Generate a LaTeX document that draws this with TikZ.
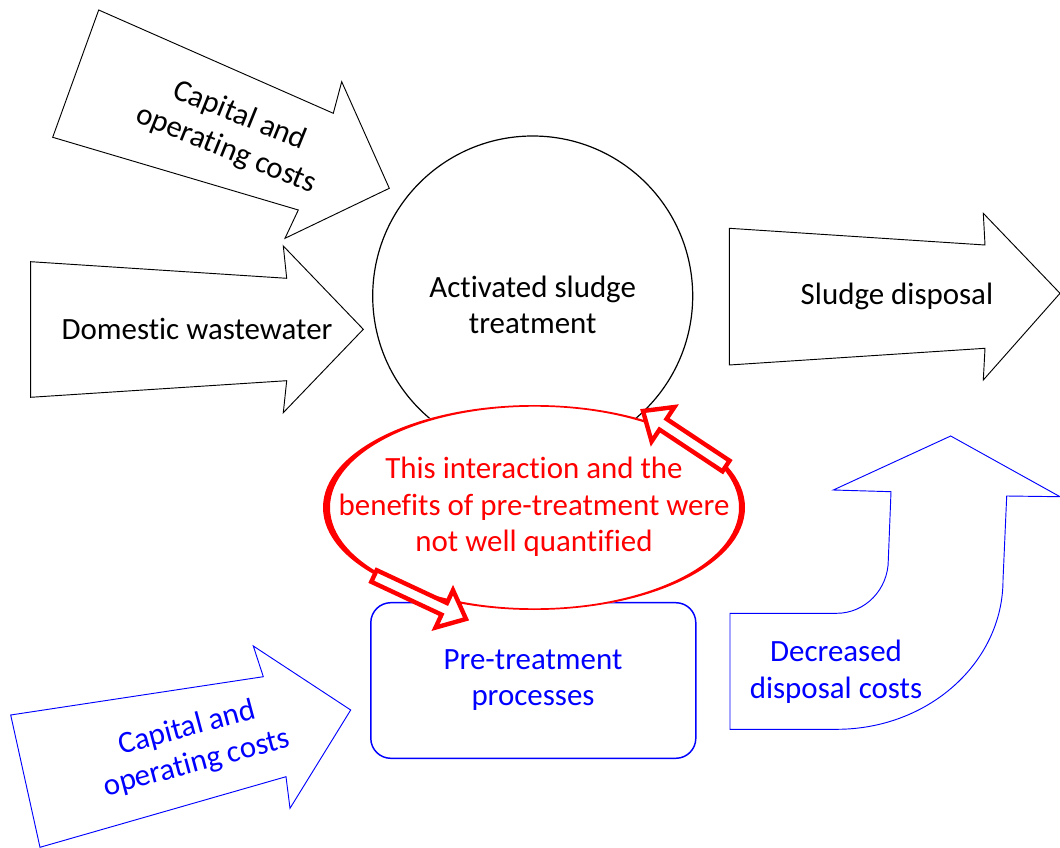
\documentclass[tikz,border=0pt]{standalone}
\usepackage{fontspec}
\setmainfont{Carlito}[Ligatures={NoCommon}]
\usetikzlibrary{calc}
\tikzset{
  txt/.style={align=center, inner sep=0pt, font=\fontsize{23.2}{27.4}\selectfont},
  blackarrow/.style={draw=black, line width=0.7pt, fill=white, line join=miter},
  bluearrow/.style={draw=blue, line width=0.7pt, fill=white, line join=miter},
  redarr/.style={draw=red, line width=3.3pt, fill=white, line join=miter, miter limit=10},
}
\newcommand\redblock[2]{%
  \coordinate (hb) at ($(#2)!18pt!(#1)$);
  \draw[redarr] ($(#1)!4.8pt!90:(#2)$) -- ($(hb)!4.8pt!90:(#2)$) -- ($(hb)!15.5pt!90:(#2)$) -- (#2)
    -- ($(hb)!15.5pt!-90:(#2)$) -- ($(hb)!4.8pt!-90:(#2)$) -- ($(#1)!4.8pt!-90:(#2)$) -- cycle;
}
\begin{document}
\begin{tikzpicture}[x=0.75pt, y=-0.75pt]
\useasboundingbox (0,0) rectangle (1060,848);
\fill[white] (0,0) rectangle (1060,848);

% top-left black arrow
\draw[blackarrow] (98.7,10) -- (333.3,113.3) -- (341.7,81.7) -- (389.3,188.3) -- (285,238.3) -- (298.3,210) -- (52.7,137.3) -- cycle;
\node[txt, rotate=-22] (capA) at (233,133) {Capital and\\operating costs};

% domestic wastewater arrow
\draw[blackarrow] (30.7,261.7) -- (286.7,278.3) -- (283.3,246) -- (363.3,329.3) -- (283.3,412.7) -- (286.7,380.7) -- (30.7,397.3) -- cycle;
\node[txt] (dom) at (197,329) {Domestic wastewater};

% sludge disposal arrow
\draw[blackarrow] (729.3,228.3) -- (985,245) -- (983.3,213.3) -- (1060,293.3) -- (983.3,380) -- (985,348.3) -- (729.3,365) -- cycle;
\node[txt] (disp) at (897,296) {Sludge disposal};

% activated sludge circle
\node[circle, draw=black, line width=0.9pt, fill=white, minimum size=320*0.75pt, inner sep=0pt] (asc) at (532.7,296) {};
\node[txt] (asct) at (532.7,305) {Activated sludge\\treatment};

% bottom-left blue arrow
\draw[bluearrow] (10.7,715) -- (263.3,676.7) -- (253.3,646) -- (350.7,710) -- (290,808.3) -- (286,776.7) -- (40,847.3) -- cycle;
\node[txt, text=blue, rotate=15] (capB) at (192,746) {Capital and\\operating costs};

% bent blue arrow
\draw[bluearrow] (730,729.3) -- (730,613.3) -- (836.7,613.3)
  .. controls (865.2,613.3) and (888.3,589.4) .. (888.3,560)
  -- (891,491.7) -- (833.3,490) -- (950.7,436) -- (1060,496.7) -- (1006.7,496)
  -- (1003,580) .. controls (1003,662.4) and (928.5,729.3) .. (836.7,729.3) -- cycle;
\node[txt, text=blue] (dec) at (836,672) {Decreased\\disposal costs};

% pre-treatment box
\node[draw=blue, line width=1.1pt, rounded corners=15pt, fill=white,
      minimum width=325*0.75pt, minimum height=155.6*0.75pt, inner sep=0pt] (pre) at (533.3,680.5) {};
\node[txt, text=blue] (pret) at (533,680) {Pre-treatment\\processes};

% red ellipse with variable stroke
\fill[white] (534,507.5) ellipse [x radius=211, y radius=102.5];
\fill[red, even odd rule] (534,507.5) ellipse [x radius=211, y radius=102.5]
                          (534.5,507.5) ellipse [x radius=204.5, y radius=100.8];
\node[txt, text=red] (inter) at (534,507) {This interaction and the\\benefits of pre-treatment were\\not well quantified};

% red block arrows
\coordinate (ta) at (726,466);
\coordinate (pa) at (643,411);
\redblock{ta}{pa}
\coordinate (tb) at (374,576);
\coordinate (pb) at (466,619);
\redblock{tb}{pb}
\end{tikzpicture}
\end{document}
